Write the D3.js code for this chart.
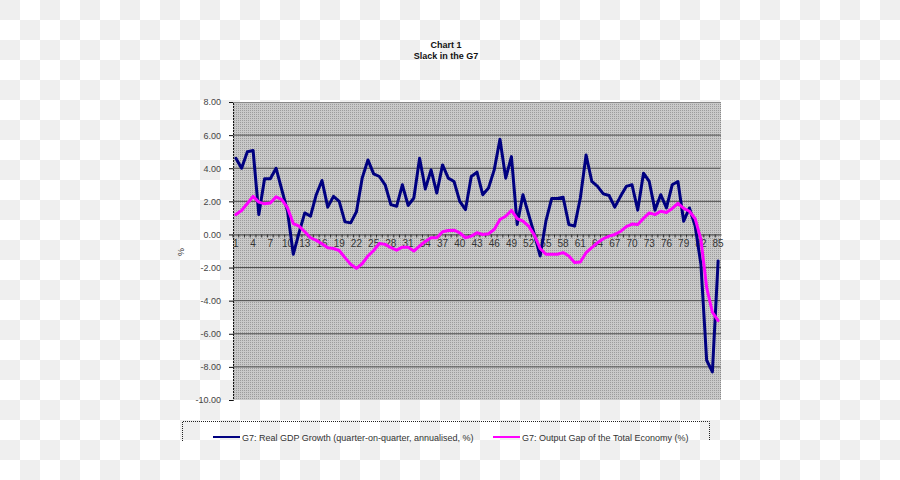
<!DOCTYPE html>
<html>
<head>
<meta charset="utf-8">
<script src="https://cdn.jsdelivr.net/npm/d3@7"></script>
<style>
  html, body { margin: 0; padding: 0; background: #fff; }
  svg { display: block; }
  text { font-family: "Liberation Sans", Arial, sans-serif; }
</style>
</head>
<body>
<svg id="chart" width="900" height="480"></svg>
<script>
// ---- data ----
const categories = [1,2,3,4,5,6,7,8,9,10,11,12,13,14,15,16,17,18,19,20,21,22,23,24,25,26,27,28,29,30,
  31,32,33,34,35,36,37,38,39,40,41,42,43,44,45,46,47,48,49,50,51,52,53,54,55,56,57,58,59,60,
  61,62,63,64,65,66,67,68,69,70,71,72,73,74,75,76,77,78,79,80,81,82,83,84,85];

const gdpGrowth = [4.6,4.0,5.0,5.07,1.2,3.36,3.36,4.0,2.7,1.4,
  -1.2,0.1,1.3,1.1,2.4,3.26,1.65,2.3,2.0,0.76,
  0.7,1.37,3.4,4.5,3.66,3.5,3.0,1.8,1.7,3.0,
  1.75,2.2,4.6,2.75,3.9,2.5,4.2,3.4,3.2,2.0,
  1.5,3.5,3.76,2.4,2.8,3.9,5.75,3.4,4.7,0.6,
  2.4,1.2,0.0,-1.3,0.8,2.17,2.17,2.25,0.6,0.5,
  2.2,4.8,3.2,2.9,2.45,2.35,1.65,2.3,2.9,3.0,
  1.47,3.7,3.2,1.47,2.4,1.6,3.0,3.2,0.8,1.6,
  0.5,-1.8,-7.6,-8.3,-1.6];

const outputGap = [1.2,1.45,1.87,2.3,1.95,1.85,1.9,2.27,2.1,1.6,
  0.66,0.5,0.16,-0.2,-0.36,-0.56,-0.8,-0.85,-0.97,-1.4,
  -1.8,-2.05,-1.77,-1.3,-0.97,-0.55,-0.6,-0.8,-0.95,-0.77,
  -0.77,-1.0,-0.7,-0.42,-0.2,-0.2,0.16,0.24,0.26,0.1,
  -0.2,-0.1,0.1,0.0,0.04,0.3,0.9,1.1,1.45,0.95,
  0.8,0.5,-0.05,-0.85,-1.2,-1.2,-1.2,-1.1,-1.3,-1.7,
  -1.67,-1.1,-0.8,-0.5,-0.26,-0.1,0.0,0.18,0.47,0.63,
  0.6,0.97,1.3,1.2,1.4,1.33,1.57,1.88,1.57,1.4,
  0.95,-0.3,-3.2,-4.7,-5.2];

const xTickLabels = [1,4,7,10,13,16,19,22,25,28,31,34,37,40,43,46,49,52,55,58,61,64,67,70,73,76,79,82,85];
const yTickValues = [8,6,4,2,0,-2,-4,-6,-8,-10];

const titleLines = ["Chart 1", "Slack in the G7"];
const seriesNames = ["G7: Real GDP Growth (quarter-on-quarter, annualised, %)",
                     "G7: Output Gap of the Total Economy (%)"];
const seriesColors = ["#000080", "#ff00ff"];

// ---- layout ----
const svg = d3.select("#chart");
const W = 900, H = 480;
const plot = {left: 233, right: 721, top: 102, bottom: 400};

const defs = svg.append("defs");
// checkerboard (transparent background look)
const chk = defs.append("pattern").attr("id", "checker")
  .attr("width", 40).attr("height", 40).attr("patternUnits", "userSpaceOnUse");
chk.append("rect").attr("width", 40).attr("height", 40).attr("fill", "#ffffff");
chk.append("rect").attr("width", 20).attr("height", 20).attr("fill", "#efefef");
chk.append("rect").attr("x", 20).attr("y", 20).attr("width", 20).attr("height", 20).attr("fill", "#efefef");
// dotted grey plot fill
const dot = defs.append("pattern").attr("id", "dots")
  .attr("width", 2).attr("height", 2).attr("patternUnits", "userSpaceOnUse");
dot.append("rect").attr("width", 2).attr("height", 2).attr("fill", "#c9c9c9");
dot.append("rect").attr("width", 1).attr("height", 1).attr("fill", "#9c9c9c");

svg.append("rect").attr("width", W).attr("height", H).attr("fill", "url(#checker)");

// ---- scales ----
const x = d3.scaleBand().domain(categories).range([plot.left, plot.right]).padding(0);
const xc = d => x(d) + x.bandwidth() / 2;
const y = d3.scaleLinear().domain([-10, 8]).range([plot.bottom, plot.top]);

// plot area
svg.append("rect")
  .attr("x", plot.left).attr("y", plot.top)
  .attr("width", plot.right - plot.left).attr("height", plot.bottom - plot.top)
  .attr("fill", "url(#dots)");

// gridlines
svg.append("g").selectAll("line")
  .data(yTickValues.filter(v => v !== 0 && v !== 8 && v !== -10))
  .join("line")
  .attr("x1", plot.left).attr("x2", plot.right)
  .attr("y1", d => y(d)).attr("y2", d => y(d))
  .attr("stroke", "#4a4a4a").attr("stroke-width", 1);

// top border + right border
svg.append("line").attr("x1", plot.left).attr("x2", plot.right)
  .attr("y1", plot.top + 0.5).attr("y2", plot.top + 0.5)
  .attr("stroke", "#8a8a8a").attr("stroke-width", 1);
svg.append("line").attr("x1", plot.right - 0.5).attr("x2", plot.right - 0.5)
  .attr("y1", plot.top).attr("y2", plot.bottom)
  .attr("stroke", "#8a8a8a").attr("stroke-width", 1).attr("stroke-dasharray", "1,1");

// y axis (hyphen-minus like the original)
const fmt = d3.formatLocale({decimal: ".", thousands: ",", grouping: [3], currency: ["", ""], minus: "-"}).format(".2f");
const yAxis = d3.axisLeft(y).tickValues(yTickValues).tickFormat(fmt).tickSize(4).tickPadding(8);
const gy = svg.append("g").attr("transform", `translate(${plot.left},0)`).call(yAxis);
gy.select(".domain").attr("stroke", "#111").attr("stroke-dasharray", "2,1");
gy.selectAll(".tick line").attr("stroke", "#111");
gy.selectAll(".tick text").attr("font-size", 9).attr("fill", "#444")
  .attr("font-family", "Liberation Sans, Arial, sans-serif");

// y axis title
svg.append("text").attr("transform", "translate(184,252) rotate(-90)")
  .attr("text-anchor", "middle").attr("font-size", 9).attr("fill", "#333").text("%");

// category axis at zero
const xAxis = d3.axisBottom(x).tickValues([]).tickSize(0);
const gx = svg.append("g").attr("transform", `translate(0,${y(0)})`).call(xAxis);
gx.select(".domain").attr("stroke", "#333").attr("stroke-width", 1);
// category boundary ticks
svg.append("g").selectAll("line")
  .data(categories)
  .join("line")
  .attr("x1", d => x(d)).attr("x2", d => x(d))
  .attr("y1", y(0)).attr("y2", y(0) + 3)
  .attr("stroke", "#333").attr("stroke-width", 1);
// category labels
svg.append("g").selectAll("text")
  .data(xTickLabels)
  .join("text")
  .attr("x", d => xc(d)).attr("y", y(0) + 13)
  .attr("text-anchor", "middle").attr("font-size", 10).attr("fill", "#333")
  .text(d => d);

// lines
const line = d3.line().x((d, i) => xc(categories[i])).y(d => y(d));
[gdpGrowth, outputGap].forEach((s, k) => {
  svg.append("path").datum(s)
    .attr("d", line)
    .attr("fill", "none")
    .attr("stroke", seriesColors[k])
    .attr("stroke-width", 3)
    .attr("stroke-linejoin", "round")
    .attr("stroke-linecap", "round");
});

// title
svg.append("g").selectAll("text")
  .data(titleLines)
  .join("text")
  .attr("x", 446).attr("y", (d, i) => 48 + i * 11)
  .attr("text-anchor", "middle").attr("font-size", 9).attr("font-weight", "bold")
  .attr("fill", "#111").text(d => d);

// legend
const lg = svg.append("g");
lg.append("path")
  .attr("d", "M182.5,441 V421.5 H709.5 V441")
  .attr("fill", "none").attr("stroke", "#222").attr("stroke-width", 1)
  .attr("stroke-dasharray", "1,1");
const legendX = [213, 493];
seriesNames.forEach((name, k) => {
  lg.append("line")
    .attr("x1", legendX[k]).attr("x2", legendX[k] + 27)
    .attr("y1", 437).attr("y2", 437)
    .attr("stroke", seriesColors[k]).attr("stroke-width", 2);
  lg.append("text")
    .attr("x", legendX[k] + 29).attr("y", 440.5)
    .attr("font-size", 9).attr("fill", "#333").text(name);
});
</script>
</body>
</html>
